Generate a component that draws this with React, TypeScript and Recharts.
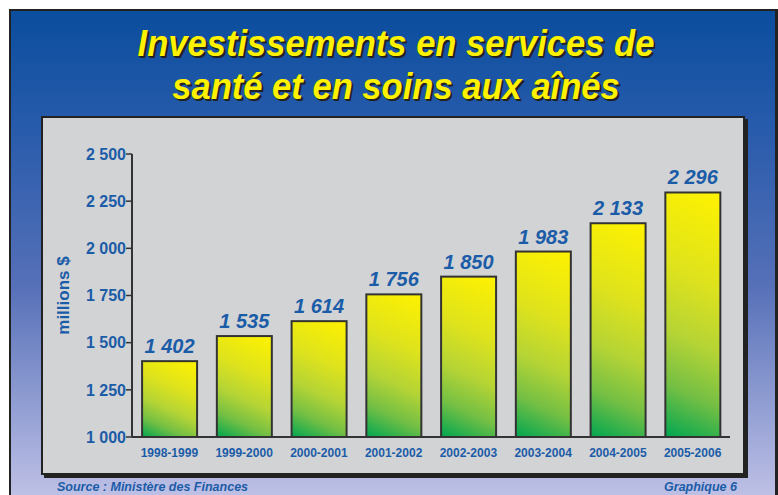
import React from 'react';
import { BarChart, Bar, XAxis, YAxis, LabelList } from 'recharts';

const periods = ['1998-1999', '1999-2000', '2000-2001', '2001-2002', '2002-2003', '2003-2004', '2004-2005', '2005-2006'];
const amounts = [1402, 1535, 1614, 1756, 1850, 1983, 2133, 2296];
const yTicks = [1000, 1250, 1500, 1750, 2000, 2250, 2500];
const boundaryTicks = [0, 1, 2, 3, 4, 5, 6, 7, 8];

const titleLines = ['Investissements en services de', 'santé et en soins aux aînés'];
const sourceText = 'Source : Ministère des Finances';
const chartNo = 'Graphique 6';

const BLUE = '#1b5ca8';
const FONT = '"Liberation Sans", Arial, sans-serif';

// "2 500" style thousands
const fmt = (v: number) => String(v).replace(/\B(?=(\d{3})+(?!\d))/g, ' ');

const data = periods.map((p, i) => ({ period: p, amount: amounts[i] }));

// yellow (top right) -> green (bottom left), at a fixed screen angle so tall bars look mostly vertical
const GradBar = (props: any) => {
  const { x, y, width, height, index } = props;
  if (!height || height <= 0) return null;
  const phi = (25 * Math.PI) / 180;
  const L = width * Math.sin(phi) + height * Math.cos(phi);
  const x1 = x + width;
  const y1 = y;
  const x2 = x1 - L * Math.sin(phi);
  const y2 = y1 + L * Math.cos(phi);
  const id = `barGrad${index}`;
  return (
    <g>
      <defs>
        <linearGradient id={id} gradientUnits="userSpaceOnUse" x1={x1} y1={y1} x2={x2} y2={y2}>
          <stop offset="0%" stopColor="#fff200" />
          <stop offset="35%" stopColor="#dfe31c" />
          <stop offset="60%" stopColor="#b5d435" />
          <stop offset="80%" stopColor="#74bf44" />
          <stop offset="100%" stopColor="#00a651" />
        </linearGradient>
      </defs>
      <rect x={x} y={y} width={width} height={height} fill={`url(#${id})`} stroke="#333" strokeWidth={2} />
    </g>
  );
};

const App: React.FC = () => {
  return (
    <div style={{ position: 'absolute', left: 0, top: 0, width: 778, height: 495, overflow: 'hidden', background: '#fff' }}>
      {/* blue frame */}
      <div
        style={{
          position: 'absolute', left: 9, top: 9, width: 764, height: 500,
          border: '2px solid #222', borderRightWidth: 3,
          background: 'linear-gradient(to bottom, #0b4d9e 0%, #2a5cac 25%, #5670b8 55%, #94a0d4 80%, #c6c6e8 100%)',
        }}
      />
      {/* title */}
      {titleLines.map((t, i) => (
        <div
          key={t}
          style={{
            position: 'absolute', left: 7, width: 778, top: 22 + i * 43, textAlign: 'center',
            fontFamily: FONT, fontWeight: 'bold', fontStyle: 'italic', fontSize: 36, color: '#fff200',
            textShadow: '2px 2px 0 #222, 1px 1px 0 #222', lineHeight: '44px',
            transform: 'scaleX(0.96)', transformOrigin: '389px 0',
          }}
        >
          {t}
        </div>
      ))}
      {/* gray panel */}
      <div
        style={{
          position: 'absolute', left: 41, top: 116, width: 700, height: 355,
          background: '#d2d3d5', border: '2px solid #222', boxShadow: '3px 3px 0 #222',
        }}
      />
      <div
        style={{
          position: 'absolute', left: 57, top: 480, fontFamily: FONT, fontWeight: 'bold', fontStyle: 'italic',
          fontSize: 12.5, color: BLUE,
        }}
      >
        {sourceText}
      </div>
      <div
        style={{
          position: 'absolute', right: 778 - 737, top: 480, fontFamily: FONT, fontWeight: 'bold', fontStyle: 'italic',
          fontSize: 12.5, color: BLUE,
        }}
      >
        {chartNo}
      </div>

      <div style={{ position: 'absolute', left: 0, top: 0 }}>
        <BarChart
          width={778}
          height={495}
          data={data}
          margin={{ top: 154, right: 48, left: 72, bottom: 28 }}
          barCategoryGap="13.5%"
        >
          <XAxis
            xAxisId="edges"
            type="number"
            domain={[0, 8]}
            ticks={boundaryTicks}
            tick={false}
            tickSize={5}
            axisLine={false}
            tickLine={{ stroke: '#333', strokeWidth: 1.5 }}
            height={0}
          />
          <XAxis
            dataKey="period"
            axisLine={{ stroke: '#333', strokeWidth: 2 }}
            tickLine={false}
            tickSize={0}
            tickMargin={11}
            height={30}
            interval={0}
            tick={{ fill: BLUE, fontSize: 12, fontWeight: 'bold', fontFamily: FONT }}
          />
          <YAxis
            domain={[1000, 2500]}
            ticks={yTicks}
            width={60}
            tickFormatter={fmt}
            tickSize={6}
            tickMargin={0}
            axisLine={{ stroke: '#333', strokeWidth: 2 }}
            tickLine={{ stroke: '#333', strokeWidth: 1.5 }}
            tick={{ fill: BLUE, fontSize: 16, fontWeight: 'bold', fontFamily: FONT }}
            label={{
              value: 'millions $', angle: -90, position: 'insideLeft', offset: -9,
              style: { fill: BLUE, fontSize: 17, fontWeight: 'bold', fontFamily: FONT, textAnchor: 'middle' },
            }}
          />
          <Bar dataKey="amount" shape={GradBar} isAnimationActive={false}>
            <LabelList
              dataKey="amount"
              position="top"
              offset={8}
              formatter={(v: any) => fmt(Number(v))}
              style={{ fill: BLUE, fontSize: 20, fontWeight: 'bold', fontStyle: 'italic', fontFamily: FONT }}
            />
          </Bar>
        </BarChart>
      </div>
    </div>
  );
};

export default App;
